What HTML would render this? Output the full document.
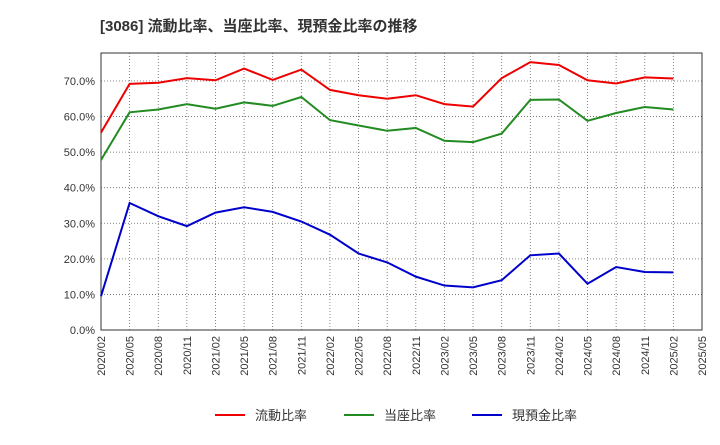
<!DOCTYPE html>
<html><head><meta charset="utf-8"><style>
body{margin:0;background:#fff;font-family:"Liberation Sans","Noto Sans CJK JP",sans-serif;}
</style></head><body>
<svg width="720" height="440" xmlns="http://www.w3.org/2000/svg" font-family="Liberation Sans, Noto Sans CJK JP, sans-serif">
<text x="100" y="31" font-size="15" font-weight="bold" fill="#333">[3086]  流動比率、当座比率、現預金比率の推移</text>
<g id="grid"></g>
<rect x="101" y="53" width="601" height="277" fill="none" stroke="#333" stroke-width="1"/>
<g id="axes"></g>
<g id="series"></g>
<g id="legend"></g>
</svg>
<script>
const xLabels=["2020/02","2020/05","2020/08","2020/11","2021/02","2021/05","2021/08","2021/11","2022/02","2022/05","2022/08","2022/11","2023/02","2023/05","2023/08","2023/11","2024/02","2024/05","2024/08","2024/11","2025/02","2025/05"];
const yTicks=[0,10,20,30,40,50,60,70];
const currentRatio=[55.5,69.2,69.5,70.8,70.2,73.5,70.3,73.2,67.5,66.0,65.0,66.0,63.5,62.8,70.8,75.3,74.5,70.2,69.3,71.0,70.7];
const quickRatio=[47.8,61.2,62.0,63.5,62.2,64.0,63.0,65.5,59.0,57.5,56.0,56.8,53.2,52.8,55.2,64.7,64.8,58.8,61.0,62.7,62.0];
const cashRatio=[9.5,35.7,32.0,29.2,33.0,34.5,33.2,30.5,26.8,21.5,19.0,15.0,12.5,12.0,14.0,21.0,21.5,13.0,17.7,16.3,16.2];
const seriesNames=["流動比率","当座比率","現預金比率"];
const colors=["#e00","#228B22","#00c"];
const NS="http://www.w3.org/2000/svg";
const X0=101,X1=702,Y0=330,Y1=53,YMAX=77.87;
const xs=i=>X0+i*(X1-X0)/(xLabels.length-1);
const ys=v=>Y0-v/YMAX*(Y0-Y1);
function mk(t,a,p){const e=document.createElementNS(NS,t);for(const k in a)e.setAttribute(k,a[k]);p.appendChild(e);return e;}
const grid=document.getElementById('grid'),axes=document.getElementById('axes'),ser=document.getElementById('series'),leg=document.getElementById('legend');
yTicks.forEach(v=>{
 const l=mk('line',{x1:X0,x2:X1,y1:ys(v),y2:ys(v),stroke:'#666','stroke-dasharray':'1,2','stroke-width':0.8},grid);
 
 
 const t=mk('text',{x:X0-6,y:ys(v)+4,'text-anchor':'end','font-size':11,fill:'#333'},axes);
 t.textContent=v.toFixed(1)+'%';
 
 
});
xLabels.forEach((s,i)=>{
 const l=mk('line',{x1:xs(i),x2:xs(i),y1:Y1,y2:Y0,stroke:'#666','stroke-dasharray':'1,2','stroke-width':0.8},grid);
 
 
 const t=mk('text',{x:xs(i)+4,y:Y0+6,'text-anchor':'end','font-size':11,fill:'#333',transform:`rotate(-90 ${xs(i)+4} ${Y0+6})`},axes);
 t.textContent=s;
 
 
});
[currentRatio,quickRatio,cashRatio].forEach((d,k)=>{
 const p=mk('polyline',{points:d.map((v,i)=>xs(i)+','+ys(v)).join(' '),fill:'none',stroke:colors[k],'stroke-width':2},ser);
 
 
});
const lx=[215,344,472];
seriesNames.forEach((n,k)=>{
 const g=mk('g',{},leg);
 
 
 mk('line',{x1:lx[k],x2:lx[k]+30,y1:415,y2:415,stroke:colors[k],'stroke-width':2},g);
 const t=mk('text',{x:lx[k]+40,y:420,'font-size':13,fill:'#333'},g);
 t.textContent=n;
});
</script>
</body></html>
